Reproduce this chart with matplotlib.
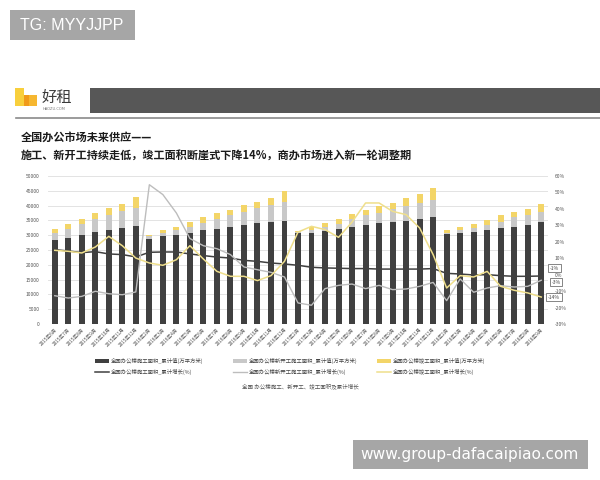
import matplotlib
matplotlib.use("Agg")
import matplotlib.pyplot as plt
import numpy as np
from matplotlib.patches import Rectangle, Patch
from matplotlib.lines import Line2D

plt.rcParams['font.family'] = ['Noto Sans CJK SC', 'DejaVu Sans']

# month labels on the x axis
months = ['2015年6月', '2015年7月', '2015年8月', '2015年9月', '2015年10月', '2015年11月', '2015年12月',
          '2016年2月', '2016年3月', '2016年4月', '2016年5月', '2016年6月', '2016年7月', '2016年8月',
          '2016年9月', '2016年10月', '2016年11月', '2016年12月',
          '2017年2月', '2017年3月', '2017年4月', '2017年5月', '2017年6月', '2017年7月', '2017年8月',
          '2017年9月', '2017年10月', '2017年11月', '2017年12月',
          '2018年2月', '2018年3月', '2018年4月', '2018年5月', '2018年6月', '2018年7月', '2018年8月',
          '2018年9月']

# cumulative areas (万平方米), stacked
shigong = [28300, 29100, 29900, 31100, 31700, 32500, 33100, 28800, 29800, 30200, 30900, 31600, 32200,
           32900, 33500, 34000, 34400, 34900, 30700, 30900, 31300, 32000, 32700, 33400, 34000, 34400,
           34900, 35500, 36000, 30300, 30900, 31200, 31800, 32400, 32900, 33500, 34300]
xinkaigong = [2400, 3100, 3800, 4300, 5000, 5600, 6200, 800, 900, 1600, 1900, 2400, 3200, 4000, 4500,
              5300, 5800, 6400, 300, 900, 1400, 1800, 2700, 3300, 3600, 4400, 4800, 5300, 5900, 600,
              900, 1200, 1700, 2200, 3100, 3400, 3700]
jungong = [1400, 1600, 1800, 2200, 2400, 2600, 3600, 400, 1000, 1100, 1600, 2000, 2000, 1700, 2100,
           2000, 2400, 3500, 500, 1100, 1300, 1700, 1800, 1800, 2100, 2200, 2800, 3100, 4200, 700,
           1100, 1400, 1700, 2100, 2000, 2100, 2600]

# cumulative growth (%)
shigong_pct = [15.2, 14.4, 13.4, 14.0, 12.6, 12.2, 10.8, 13.6, 13.8, 13.8, 12.6, 11.6, 10.7, 10.1, 8.7,
               8.1, 7.1, 6.5, 5.7, 4.5, 4.1, 3.9, 3.7, 3.7, 3.4, 3.4, 3.4, 3.4, 3.7, 0.8, 0.4, -0.2,
               0.0, -0.6, -1.0, -1.0, -0.8]
xinkaigong_pct = [-12.8, -14.2, -13.2, -10.1, -11.6, -12.2, -10.5, 54.7, 48.7, 37.5, 22.0, 17.6, 15.8,
                  12.2, 4.7, 3.0, 1.4, -1.4, -17.2, -18.6, -8.5, -6.5, -5.7, -8.5, -6.5, -9.1, -8.7,
                  -7.1, -4.7, -15.8, -2.6, -10.7, -8.1, -6.7, -7.5, -7.1, -3.4]
jungong_pct = [14.8, 14.2, 13.2, 16.8, 23.3, 17.6, 10.1, 7.1, 5.7, 9.1, 17.6, 9.5, 2.0, -1.0, -1.0,
               -3.6, -0.6, 8.1, 25.9, 29.4, 27.4, 22.7, 32.0, 43.6, 43.6, 38.5, 36.5, 28.4, 12.2,
               -8.1, -0.6, -1.4, 2.0, -7.1, -9.5, -11.1, -13.6]

end_labels = ['-1%', '-3%', '-14%']
end_label_y = [4.0, -4.5, -13.6]

legend_names = ['全国办公楼施工面积_累计值(万平方米)', '全国办公楼施工面积_累计增长(%)',
                '全国办公楼新开工施工面积_累计值(万平方米)', '全国办公楼新开工施工面积_累计增长(%)',
                '全国办公楼竣工面积_累计值(万平方米)', '全国办公楼竣工面积_累计增长(%)']

c_dark = '#404040'
c_gray = '#c8c8c8'
c_yel = '#f3d568'
c_gray_line = '#bdbdbd'
c_yel_line = '#efdf8c'


def fx(x):
    return x / 600.0


def fy(y):
    return 1 - y / 480.0


fig = plt.figure(figsize=(6, 4.8), dpi=100)
fig.patch.set_facecolor('white')

# watermark box top left
fig.patches.append(Rectangle((fx(10), fy(40)), fx(125), 30 / 480, transform=fig.transFigure,
                             facecolor='#a6a6a6', edgecolor='none'))
fig.text(fx(20), fy(25), 'TG: MYYJJPP', color='white', fontsize=11.5, va='center',
         family=['Liberation Sans', 'DejaVu Sans'])

# logo and header bar
fig.patches.append(Rectangle((fx(15), fy(106)), fx(9), 18 / 480, transform=fig.transFigure,
                             facecolor='#f8cf3c', edgecolor='none'))
fig.patches.append(Rectangle((fx(24), fy(106)), fx(13), 11 / 480, transform=fig.transFigure,
                             facecolor='#f6b730', edgecolor='none'))
fig.patches.append(Rectangle((fx(24), fy(106)), fx(5), 11 / 480, transform=fig.transFigure,
                             facecolor='#f09a1a', edgecolor='none'))
fig.text(fx(42), fy(97), '好租', color='#3a3a3a', fontsize=11, va='center')
fig.text(fx(43), fy(108.5), 'HAOZU.COM', color='#777777', fontsize=2.6, va='center',
         family=['DejaVu Sans'])
fig.patches.append(Rectangle((fx(90), fy(113)), fx(510), 25 / 480, transform=fig.transFigure,
                             facecolor='#575757', edgecolor='none'))
fig.lines.append(Line2D([fx(16), 1], [fy(118), fy(118)], transform=fig.transFigure,
                        color='#8a8a8a', lw=1.2))

# title
fig.text(fx(21), fy(137), '全国办公市场未来供应——', fontsize=8, color='#1a1a1a', va='center',
         fontweight='bold')
fig.text(fx(21), fy(155), '施工、新开工持续走低，竣工面积断崖式下降14%，商办市场进入新一轮调整期',
         fontsize=8, color='#1a1a1a', va='center', fontweight='bold')

# main chart
ax = fig.add_axes([fx(48), fy(324), 500 / 600, 148 / 480])
x = np.arange(len(months))
b1 = np.array(shigong)
b2 = np.array(xinkaigong)
b3 = np.array(jungong)
ax.bar(x, b1, width=0.44, color=c_dark, zorder=2)
ax.bar(x, b2, width=0.44, bottom=b1, color=c_gray, zorder=2)
ax.bar(x, b3, width=0.44, bottom=b1 + b2, color=c_yel, zorder=2)
ax.set_xlim(-0.5, len(months) - 0.5)
ax.set_ylim(0, 50000)
ax.set_yticks(np.arange(0, 50001, 5000))
ax.yaxis.grid(True, color='#e3e3e3', lw=0.7, zorder=0)
ax.set_axisbelow(True)
ax.tick_params(axis='y', length=0, pad=6, labelsize=3.6, labelcolor='#555555')
ax.set_xticks(x)
ax.set_xticklabels(months, rotation=45, ha='right', rotation_mode='anchor')
ax.tick_params(axis='x', length=0, pad=2, labelsize=3.4, labelcolor='#555555')
for s in ax.spines.values():
    s.set_visible(False)

ax2 = ax.twinx()
ax2.plot(x, shigong_pct, color=c_dark, lw=1.1, zorder=3)
ax2.plot(x, xinkaigong_pct, color=c_gray_line, lw=1.0, zorder=3)
ax2.plot(x, jungong_pct, color=c_yel_line, lw=1.1, zorder=3)
ax2.set_ylim(-30, 60)
ax2.set_yticks(np.arange(-30, 61, 10))
ax2.set_yticklabels(['%d%%' % v for v in range(-30, 61, 10)])
ax2.tick_params(axis='y', length=0, pad=5, labelsize=3.6, labelcolor='#555555')
for s in ax2.spines.values():
    s.set_visible(False)

# end value callouts
for lab, yv, xo in zip(end_labels, end_label_y, [37.0, 37.1, 36.95]):
    ax2.text(xo, yv, lab, fontsize=3.6, color='#444444', ha='center', va='center', clip_on=False,
             bbox=dict(boxstyle='square,pad=0.35', facecolor='white', edgecolor='#555555', lw=0.5),
             zorder=5)

# legends, three columns
h = [Patch(facecolor=c_dark), Line2D([], [], color=c_dark, lw=1.1),
     Patch(facecolor=c_gray), Line2D([], [], color=c_gray_line, lw=1.0),
     Patch(facecolor=c_yel), Line2D([], [], color=c_yel_line, lw=1.1)]
for i, xpos in enumerate([95, 233, 377]):
    fig.legend(h[2 * i:2 * i + 2], legend_names[2 * i:2 * i + 2], loc='upper left',
               bbox_to_anchor=(fx(xpos), fy(358)), frameon=False, fontsize=3.9,
               handlelength=2.5, handleheight=0.6, handletextpad=0.4, labelspacing=0.9,
               borderpad=0, borderaxespad=0, labelcolor='#444444')

# caption
fig.text(0.5, fy(386), '全国 办公楼施工、新开工、竣工面积及累计增长', fontsize=4, color='#555555',
         ha='center', va='center')

# watermark box bottom right
fig.patches.append(Rectangle((fx(353), fy(469)), fx(235), 29 / 480, transform=fig.transFigure,
                             facecolor='#a6a6a6', edgecolor='none'))
fig.text(fx(470), fy(455), 'www.group-dafacaipiao.com', color='white', fontsize=11.1,
         ha='center', va='center', family=['DejaVu Sans'])

fig.savefig('out.png', dpi=100, facecolor='white')
